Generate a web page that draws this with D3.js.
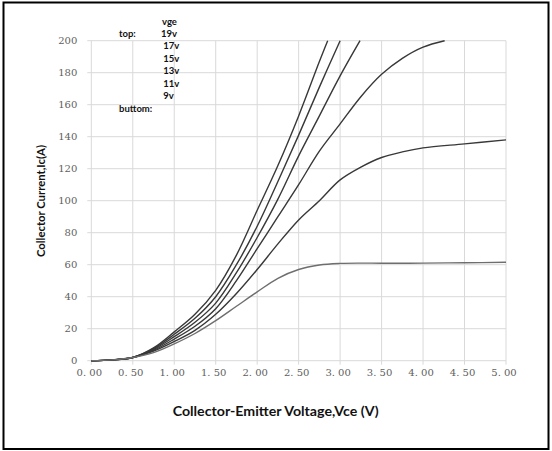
<!DOCTYPE html>
<html>
<head>
<meta charset="utf-8">
<script src="https://cdn.jsdelivr.net/npm/d3@7"></script>
<style>
  body { margin: 0; background: #fff; }
  svg { display: block; }
  .tick-label { font-family: "DejaVu Serif", serif; font-size: 10px; fill: #606060; }
  .title { font-family: Lato, "Open Sans", sans-serif; font-weight: bold; fill: #111; }
  .legend { font-family: Lato, "Open Sans", sans-serif; font-weight: bold; font-size: 9.5px; fill: #111; }
</style>
</head>
<body>
<svg id="chart" width="552" height="451"></svg>
<script>
// data: [Vce (V), Ic (A)]
const vge19 = [[0,0],[0.25,0.5],[0.5,2],[0.75,8],[1,18],[1.25,29],[1.5,44],[1.75,66],[2,94],[2.25,122],[2.5,153],[2.75,187],[2.85,200]]
const vge17 = [[0,0],[0.25,0.5],[0.5,2],[0.75,7.5],[1,16.5],[1.25,26.5],[1.5,40],[1.75,60],[2,84],[2.25,112],[2.5,141],[2.75,171],[3,200]]
const vge15 = [[0,0],[0.25,0.5],[0.5,2],[0.75,7],[1,15],[1.25,24],[1.5,36],[1.75,55],[2,77],[2.25,101],[2.5,128],[2.75,153],[3,178],[3.24,200]]
const vge13 = [[0,0],[0.25,0.5],[0.5,2],[0.75,6.5],[1,13.5],[1.25,21.5],[1.5,32.5],[1.75,50],[2,70],[2.25,90],[2.5,110],[2.75,131],[3,148],[3.25,165],[3.5,179],[3.75,189],[4,196],[4.26,200]]
const vge11 = [[0,0],[0.25,0.5],[0.5,2],[0.75,6],[1,12],[1.25,19],[1.5,29],[1.75,42],[2,57],[2.25,73],[2.5,88],[2.75,100],[3,113],[3.25,121],[3.5,127],[3.75,130.5],[4,133],[4.5,135.5],[5,138]]
const vge9 = [[0,0],[0.25,0.5],[0.5,2],[0.75,5],[1,10.5],[1.25,17],[1.5,25],[1.75,34],[2,43],[2.25,51.5],[2.5,57],[2.75,59.8],[3,60.8],[3.25,61],[3.5,60.9],[4,61],[4.5,61.2],[5,61.5]]

const seriesList = [vge19, vge17, vge15, vge13, vge11, vge9]
const xTicks = [0, 0.5, 1, 1.5, 2, 2.5, 3, 3.5, 4, 4.5, 5]
const yTicks = [0, 20, 40, 60, 80, 100, 120, 140, 160, 180, 200]
const legendLines = ['19v', '17v', '15v', '13v', '11v', '9v']

const svg = d3.select('#chart')

// outer frame
svg.append('rect')
    .attr('x', 3.5).attr('y', 2.5)
    .attr('width', 545).attr('height', 446.5)
    .attr('fill', 'none')
    .attr('stroke', '#000')
    .attr('stroke-width', 2)

const x = d3.scaleLinear().domain([0, 5]).range([91.3, 506])
const y = d3.scaleLinear().domain([0, 200]).range([360.7, 40.7])

// grid
const grid = svg.append('g').attr('stroke', '#d9d9d9').attr('stroke-width', 1)
grid.selectAll('line.h').data(yTicks).enter()
    .append('line')
    .attr('x1', x(0) - 4).attr('x2', x(5))
    .attr('y1', d => y(d)).attr('y2', d => y(d))
grid.selectAll('line.v').data(xTicks).enter()
    .append('line')
    .attr('x1', d => x(d)).attr('x2', d => x(d))
    .attr('y1', y(200)).attr('y2', y(0) + 4)

// tick labels
svg.selectAll('text.ylab').data(yTicks).enter()
    .append('text')
    .attr('class', 'tick-label')
    .attr('x', x(0) - 14)
    .attr('y', d => y(d) + 3.5)
    .attr('text-anchor', 'end')
    .text(d => d)

svg.selectAll('text.xlab').data(xTicks).enter()
    .append('text')
    .attr('class', 'tick-label')
    .attr('x', d => x(d) - 2)
    .attr('y', y(0) + 15)
    .attr('text-anchor', 'middle')
    .text(d => d.toFixed(2).replace('.', '. '))

// axis titles
svg.append('text')
    .attr('class', 'title')
    .attr('x', 275.7).attr('y', 416)
    .attr('text-anchor', 'middle')
    .attr('font-size', 12.5)
    .attr('textLength', 206)
    .attr('lengthAdjust', 'spacingAndGlyphs')
    .text('Collector-Emitter Voltage,Vce (V)')

svg.append('text')
    .attr('class', 'title')
    .attr('transform', 'translate(45,201) rotate(-90)')
    .attr('text-anchor', 'middle')
    .attr('font-size', 11.5)
    .attr('textLength', 112)
    .attr('lengthAdjust', 'spacingAndGlyphs')
    .text('Collector Current,Ic(A)')

// curves
const line = d3.line()
    .x(d => x(d[0]))
    .y(d => y(d[1]))
    .curve(d3.curveCatmullRom.alpha(0.5))

svg.selectAll('path.curve').data(seriesList).enter()
    .append('path')
    .attr('class', 'curve')
    .attr('fill', 'none')
    .attr('stroke', (d, i) => i === 5 ? '#6e6e6e' : '#383838')
    .attr('stroke-width', 1.4)
    .attr('d', line)

// legend text block
svg.append('text').attr('class', 'legend').attr('x', 162).attr('y', 25).text('vge')
svg.append('text').attr('class', 'legend').attr('x', 119).attr('y', 36.5).text('top:')
svg.selectAll('text.leg').data(legendLines).enter()
    .append('text')
    .attr('class', 'legend')
    .attr('x', (d, i) => i === 0 ? 161 : 163.3)
    .attr('y', (d, i) => 36.5 + i * 12.5)
    .text(d => d)
svg.append('text').attr('class', 'legend').attr('x', 119).attr('y', 112).text('buttom:')
</script>
</body>
</html>
